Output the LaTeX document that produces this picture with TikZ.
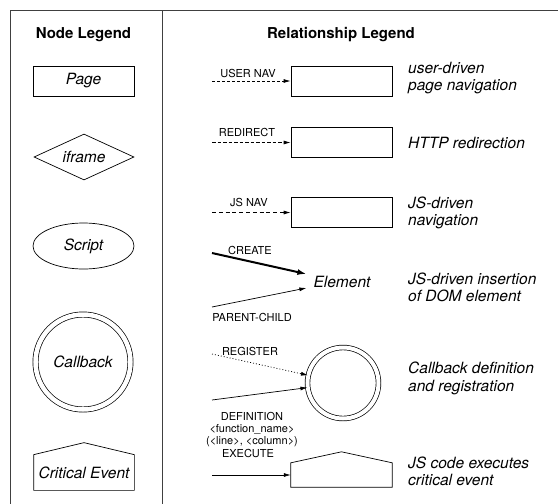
\documentclass[tikz,border=0pt]{standalone}
\usepackage{fontspec}
\setmainfont{TeX Gyre Heros}
\usetikzlibrary{arrows.meta,shapes.geometric}
\begin{document}
\begin{tikzpicture}[x=1pt,y=-1pt,
  frameline/.style={draw=black!75, line width=1pt},
  shapebox/.style={draw, line width=0.7pt, inner sep=0pt, font=\fontsize{15.5}{18}\selectfont\itshape},
  titletext/.style={font=\fontsize{15}{17}\selectfont\bfseries, inner sep=0pt},
  rellabel/.style={font=\fontsize{11}{11.8}\selectfont, inner sep=0pt, align=center},
  desc/.style={font=\fontsize{15.5}{17.5}\selectfont\itshape, align=left, anchor=west, inner sep=0pt},
  conn/.style={line width=0.7pt, -{Latex[length=7pt,width=4pt]}},
]
\useasboundingbox (0,0) rectangle (558,504);
% frame
\draw[frameline] (10,504) -- (10,10) -- (558,10);
\draw[frameline] (162,10) -- (162,504);
% titles
\node[titletext] (tnode) at (83.5,35) {Node Legend};
\node[titletext] (trel) at (341,35) {Relationship Legend};
% node legend
\node[shapebox, rectangle, minimum width=101pt, minimum height=30pt] (page) at (83.5,81) {Page};
\node[shapebox, diamond, aspect=2.2, minimum width=100pt, minimum height=46pt] (iframe) at (84,157) {iframe};
\node[shapebox, ellipse, minimum width=101pt, minimum height=46pt] (script) at (83.5,246) {Script};
\node[shapebox, circle, double, double distance=4.5pt, minimum size=95pt] (callback) at (83,362) {Callback};
\node[shapebox, draw=none, rectangle, minimum width=100pt, minimum height=35pt] (crit) at (84,472.5) {Critical Event};
\draw[line width=0.7pt] (crit.north west) -- ([yshift=12pt]crit.north) -- (crit.north east) -- (crit.south east) -- (crit.south west) -- cycle;
% relationship legend: user nav
\node[shapebox, rectangle, minimum width=101pt, minimum height=30pt] (unrect) at (341.5,81) {};
\node[rellabel] (unlab) at (248,73) {USER NAV};
\coordinate (un0) at (212,81);
\draw[conn, dash pattern=on 3pt off 2pt] (un0) -- (unrect.west);
\node[desc] (undesc) at (408,78) {user-driven\\page navigation};
% redirect
\node[shapebox, rectangle, minimum width=101pt, minimum height=30pt] (rdrect) at (341.5,142.5) {};
\node[rellabel] (rdlab) at (247,132) {REDIRECT};
\coordinate (rd0) at (212,142.5);
\draw[conn, dash pattern=on 3.5pt off 2pt] (rd0) -- (rdrect.west);
\node[desc] (rddesc) at (408,143) {HTTP redirection};
% js nav
\node[shapebox, rectangle, minimum width=101pt, minimum height=30pt] (jsrect) at (341.5,212.5) {};
\node[rellabel] (jslab) at (249,202.5) {JS NAV};
\coordinate (js0) at (212,212.5);
\draw[conn, dash pattern=on 4pt off 2.8pt] (js0) -- (jsrect.west);
\node[desc] (jsdesc) at (408,213) {JS-driven\\navigation};
% create / parent-child
\node[font=\fontsize{15.5}{18}\selectfont\itshape, inner sep=0pt] (el) at (342,282) {Element};
\node[rellabel] (crlab) at (250,250) {CREATE};
\coordinate (cr0) at (212,253);
\draw[line width=2pt, -{Latex[length=9pt,width=6pt]}] (cr0) -- ([xshift=-7pt,yshift=8pt]el.west);
\node[rellabel] (pclab) at (252,317) {PARENT-CHILD};
\coordinate (pc0) at (212,307);
\draw[conn] (pc0) -- ([xshift=-7pt,yshift=-6pt]el.west);
\node[desc] (eldesc) at (408,287.5) {JS-driven insertion\\of DOM element};
% callback
\node[shapebox, circle, double, double distance=4pt, minimum size=71pt] (rcb) at (343,383) {};
\node[rellabel] (rglab) at (250,351) {REGISTER};
\coordinate (rg0) at (212,354);
\draw[conn, dash pattern=on 1pt off 2pt] (rg0) -- (rcb);
\node[rellabel] (dflab) at (252,429.5) {DEFINITION\\<function\_name>\\(<line>, <column>)};
\coordinate (df0) at (212,400);
\draw[conn] (df0) -- (rcb);
\node[desc] (cbdesc) at (408,378.5) {Callback definition\\and registration};
% execute
\node[rectangle, minimum width=101pt, minimum height=24pt, inner sep=0pt] (rcrit) at (341.5,475) {};
\draw[line width=0.7pt] (rcrit.north west) -- ([yshift=11pt]rcrit.north) -- (rcrit.north east) -- (rcrit.south east) -- (rcrit.south west) -- cycle;
\node[rellabel] (exlab) at (248,453.5) {EXECUTE};
\coordinate (ex0) at (212,475);
\draw[conn] (ex0) -- (rcrit.west);
\node[desc] (exdesc) at (408,471.5) {JS code executes\\critical event};
\end{tikzpicture}
\end{document}
